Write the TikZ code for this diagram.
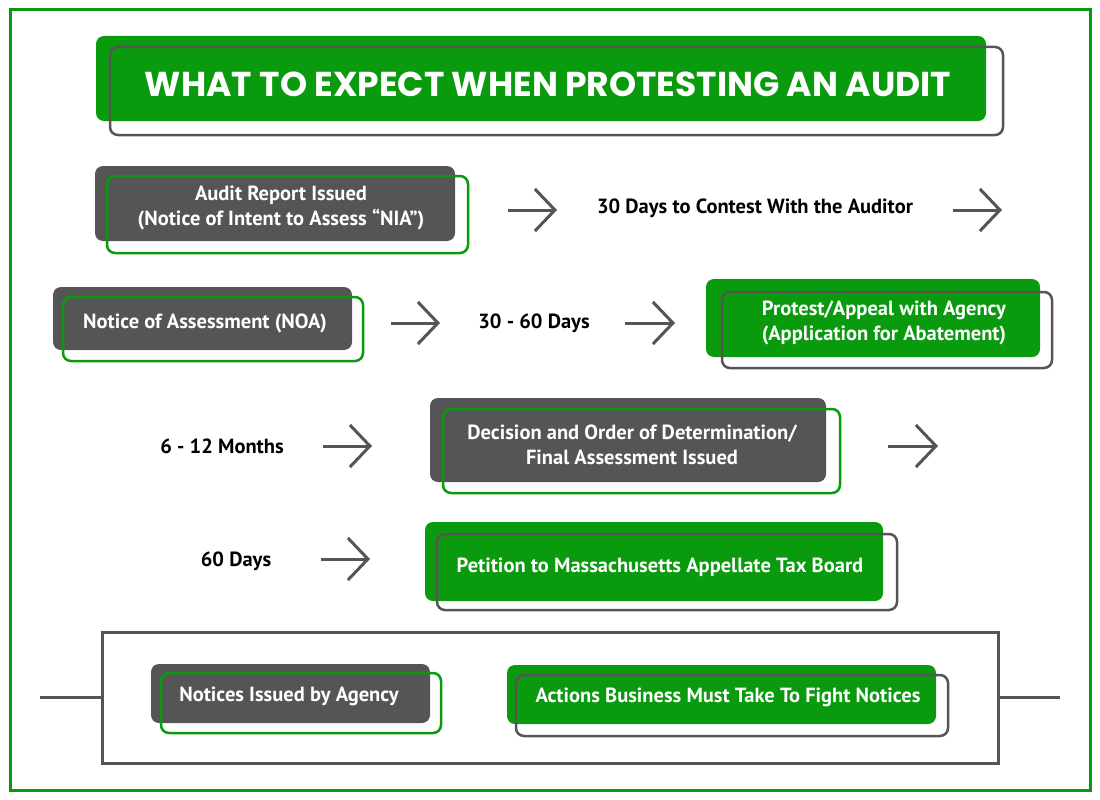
\documentclass[tikz,border=0pt]{standalone}
\usepackage{fontspec}
\setmainfont{PT Sans}
\newfontfamily\headfont{Poppins}
\usepackage{tikz}
\usetikzlibrary{arrows.meta,positioning}
\definecolor{pagreen}{RGB}{10,154,14}
\definecolor{pagray}{RGB}{85,85,85}
\tikzset{
  pa fact/.style={
    rectangle,
    rounded corners=8pt,
    fill=pagray,
    inner sep=0pt,
  },
  pa act/.style={
    rectangle,
    rounded corners=8pt,
    fill=pagreen,
    inner sep=0pt,
  },
  pa ring green/.style={
    rectangle,
    rounded corners=8pt,
    draw=pagreen,
    line width=2.5pt,
    inner sep=0pt,
  },
  pa ring gray/.style={
    rectangle,
    rounded corners=8pt,
    draw=pagray,
    line width=2.5pt,
    inner sep=0pt,
  },
  pa text/.style={
    text=white,
    align=center,
    font=\bfseries\fontsize{20.5}{25}\selectfont,
    inner sep=0pt,
  },
  pa label/.style={
    text=black,
    font=\bfseries\fontsize{20.5}{25}\selectfont,
    inner sep=0pt,
  },
  pa arrow/.style={-{Straight Barb[length=20pt,width=42pt]}, line width=3pt, draw=pagray},
}

\begin{document}
\begin{tikzpicture}[x=1pt,y=-1pt]
  \useasboundingbox (0,0) rectangle (1100,800);
  \draw[pagreen, line width=3pt] (10,10) rectangle (1090,790);

  % title
  \node[pa act, minimum width=890pt, minimum height=85pt] (title) at (541,78.5) {};
  \node[pa ring gray, minimum width=893pt, minimum height=88pt] (title ring) at (556.5,91) {};
  \node[pa text, font=\headfont\bfseries\fontsize{34.5}{40}\selectfont] (title text) at (548,84)
    {WHAT TO EXPECT WHEN PROTESTING AN AUDIT};

  % row 1
  \node[pa fact, minimum width=360pt, minimum height=75pt] (audit) at (275,203.5) {};
  \node[pa ring green, minimum width=361pt, minimum height=77pt] (audit ring) at (287.5,214.5) {};
  \node[pa text] (audit text) at (281,208) {Audit Report Issued\\(Notice of Intent to Assess “NIA”)};
  \node[pa label] (contest) at (755,208) {30 Days to Contest With the Auditor};

  % row 2
  \node[pa fact, minimum width=299pt, minimum height=63pt] (noa) at (202.5,318.5) {};
  \node[pa ring green, minimum width=300pt, minimum height=64pt] (noa ring) at (213,329) {};
  \node[pa text] (noa text) at (205,323) {Notice of Assessment (NOA)};
  \node[pa label] (days3060) at (534,323) {30 - 60 Days};
  \node[pa act, minimum width=334pt, minimum height=78pt] (appeal) at (873,318) {};
  \node[pa ring gray, minimum width=330pt, minimum height=76pt] (appeal ring) at (887,330) {};
  \node[pa text] (appeal text) at (884,323) {Protest/Appeal with Agency\\(Application for Abatement)};

  % row 3
  \node[pa label] (months) at (222,446) {6 - 12 Months};
  \node[pa fact, minimum width=396pt, minimum height=84pt] (decision) at (628,440) {};
  \node[pa ring green, minimum width=397pt, minimum height=84pt] (decision ring) at (641.5,451) {};
  \node[pa text] (decision text) at (632,445) {Decision and Order of Determination/\\Final Assessment Issued};

  % row 4
  \node[pa label] (days60) at (236,561) {60 Days};
  \node[pa act, minimum width=458pt, minimum height=79pt] (petition) at (654,561.5) {};
  \node[pa ring gray, minimum width=460pt, minimum height=76pt] (petition ring) at (667,572) {};
  \node[pa text] (petition text) at (660,567) {Petition to Massachusetts Appellate Tax Board};

  % arrows
  \foreach \i/\xa/\xb/\ya in {1/508/557/210, 2/953/1002/210, 3/391/440/323, 4/625/675/323,
                              5/323/372/446, 6/888/938/446, 7/321/370/559} {
    \coordinate (a\i s) at (\xa,\ya);
    \coordinate (a\i e) at (\xb,\ya);
    \draw[pa arrow] (a\i s) -- (a\i e);
  }

  % legend
  \node[rectangle, draw=pagray, line width=3pt, minimum width=896pt, minimum height=131pt] (legend) at (550,697.5) {};
  \coordinate (stub l) at (40,697.5);
  \coordinate (stub r) at (1060,697.5);
  \draw[pagray, line width=3pt] (stub l) -- (legend.west);
  \draw[pagray, line width=3pt] (legend.east) -- (stub r);

  \node[pa fact, minimum width=279pt, minimum height=59pt] (notices) at (290.5,693.5) {};
  \node[pa ring green, minimum width=280pt, minimum height=60pt] (notices ring) at (301,703) {};
  \node[pa text] (notices text) at (289,696) {Notices Issued by Agency};

  \node[pa act, minimum width=429pt, minimum height=59pt] (actions) at (721.5,694.5) {};
  \node[pa ring gray, minimum width=432pt, minimum height=61pt] (actions ring) at (732,705.5) {};
  \node[pa text] (actions text) at (728,697) {Actions Business Must Take To Fight Notices};
\end{tikzpicture}
\end{document}
